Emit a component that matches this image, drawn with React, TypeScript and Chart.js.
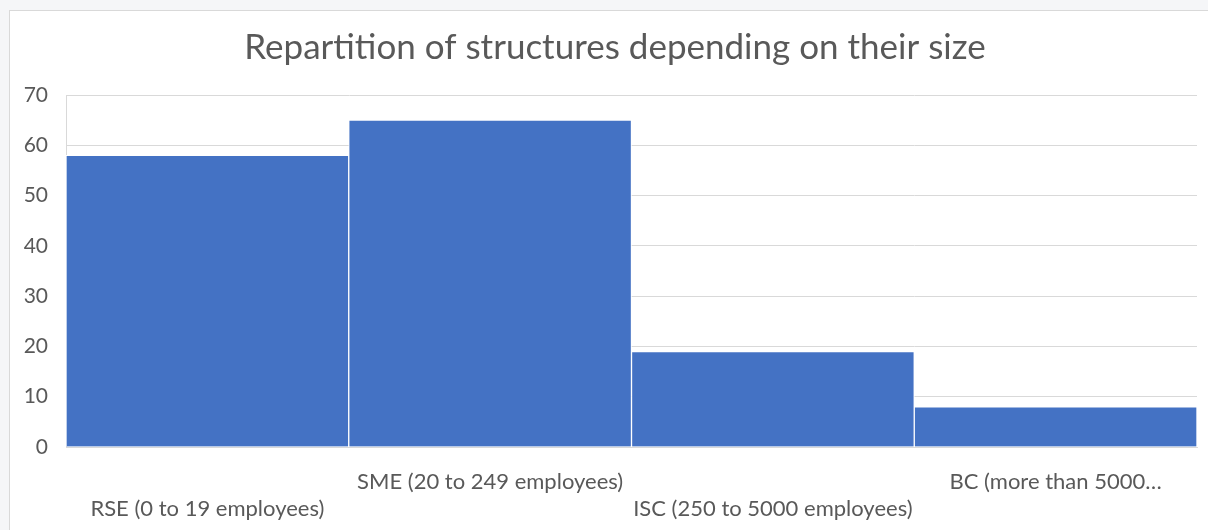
import React, { useEffect, useRef } from "react";
import { Chart, registerables } from "chart.js";

Chart.register(...registerables);

const chartTitle = "Repartition of structures depending on their size";
const categories = [
  "RSE (0 to 19 employees)",
  "SME (20 to 249 employees)",
  "ISC (250 to 5000 employees)",
  "BC (more than 5000\u2026",
];
const counts = [58, 65, 19, 8];
const yMin = 0;
const yMax = 70;
const yStep = 10;

const TEXT = "#595959";
const GRID = "#d9d9d9";
const BAR = "#4472C4";
const FONT = "Lato, 'Open Sans', sans-serif";

export default function App() {
  const ref = useRef<HTMLCanvasElement | null>(null);

  useEffect(() => {
    if (!ref.current) return;
    const chart = new Chart(ref.current, {
      type: "bar",
      data: {
        labels: categories,
        datasets: [
          {
            data: counts,
            yAxisID: "y",
            backgroundColor: BAR,
            borderColor: "#ffffff",
            borderWidth: 1,
            barPercentage: 1,
            categoryPercentage: 1,
          },
        ],
      },
      options: {
        responsive: false,
        animation: false,
        layout: { padding: { left: 0, right: 0, top: 0, bottom: 0 } },
        plugins: {
          legend: { display: false },
          tooltip: { enabled: false },
          title: {
            display: true,
            text: chartTitle,
            color: TEXT,
            font: { family: FONT, size: 35, weight: "normal", lineHeight: 1.2 },
            padding: { top: 16, bottom: 26 },
          },
        },
        scales: {
          x: {
            grid: { display: false, drawTicks: false },
            border: { display: true, color: GRID },
            ticks: {
              autoSkip: false,
              maxRotation: 0,
              minRotation: 0,
              padding: 21,
              color: TEXT,
              font: { family: FONT, size: 22, lineHeight: 1.25 },
              callback: (_v: any, i: number) =>
                i % 2 === 0 ? ["", categories[i]] : [categories[i]],
            },
            afterFit: (s: any) => {
              s.height = 83;
            },
          },
          y: {
            position: "left",
            min: yMin,
            max: yMax,
            grid: { color: GRID, drawTicks: false },
            border: { display: true, color: GRID },
            ticks: {
              stepSize: yStep,
              padding: 18,
              color: TEXT,
              font: { family: FONT, size: 21 },
            },
            afterFit: (s: any) => {
              s.width = 56;
            },
          },
          yRight: {
            type: "linear",
            position: "right",
            min: yMin,
            max: yMax,
            grid: { display: false, drawTicks: false },
            border: { display: false },
            ticks: { display: false },
            afterFit: (s: any) => {
              s.width = 23;
            },
          },
        },
      },
    });
    return () => chart.destroy();
  }, []);

  return (
    <div
      style={{
        position: "absolute",
        left: 0,
        top: 0,
        width: 1208,
        height: 530,
        overflow: "hidden",
        background: "#f5f6f8",
      }}
    >
      <div
        style={{
          position: "absolute",
          left: 9,
          top: 10,
          width: 1215,
          height: 530,
          border: `1px solid ${GRID}`,
          background: "#ffffff",
        }}
      >
        <canvas ref={ref} width={1210} height={519} style={{ display: "block" }} />
      </div>
    </div>
  );
}
